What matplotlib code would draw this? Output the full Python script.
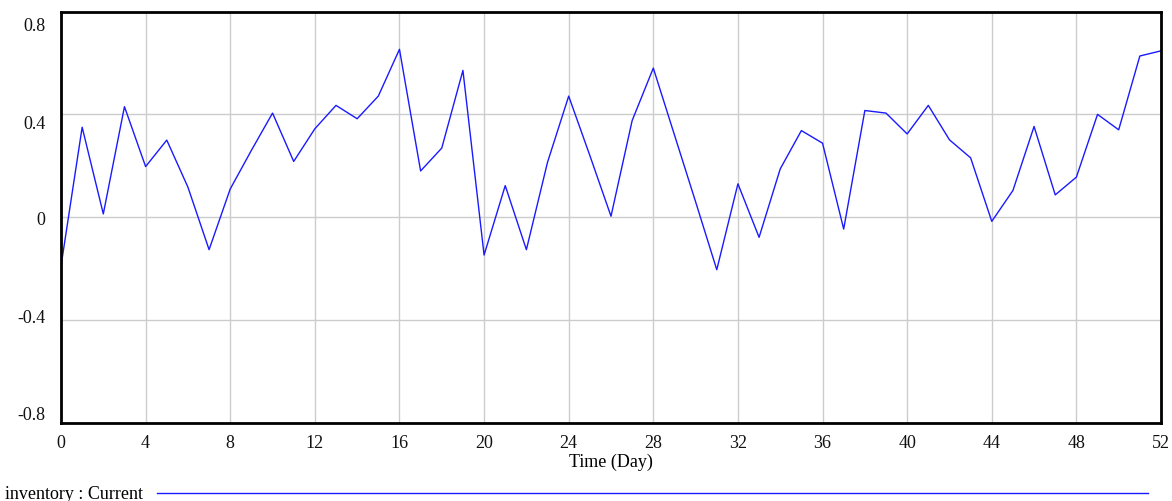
import matplotlib
matplotlib.use("Agg")
import matplotlib.pyplot as plt
from matplotlib.lines import Line2D
from matplotlib.transforms import ScaledTranslation

days = list(range(53))
inventory = [-0.19, 0.35, 0.013, 0.43, 0.197, 0.30, 0.117, -0.126, 0.11, 0.26,
             0.405, 0.217, 0.344, 0.435, 0.383, 0.471, 0.653, 0.18, 0.269, 0.571,
             -0.147, 0.123, -0.126, 0.214, 0.471, 0.24, 0.004, 0.376, 0.58, 0.32,
             0.06, -0.204, 0.13, -0.078, 0.188, 0.337, 0.288, -0.046, 0.415, 0.405,
             0.324, 0.435, 0.301, 0.231, -0.016, 0.104, 0.353, 0.087, 0.156, 0.40,
             0.34, 0.627, 0.647]
x_ticks = list(range(0, 53, 4))
y_ticks = [-0.8, -0.4, 0, 0.4, 0.8]
y_tick_labels = ["-0.8", "-0.4", "0", "0.4", "0.8"]
legend_label = "inventory : Current"
x_label = "Time (Day)"

plt.rcParams['font.family'] = ['Liberation Serif', 'DejaVu Serif']
W, H = 1172, 502
fig = plt.figure(figsize=(W / 100, H / 100), dpi=100)
ax = fig.add_axes([61 / W, 1 - 424 / H, 1100 / W, (424 - 12.5) / H])

ax.plot(days, inventory, color='#1a1aff', lw=1.0)
ax.set_xlim(0, 52)
ax.set_ylim(-0.8, 0.8)
ax.set_xticks(x_ticks)
ax.set_yticks(y_ticks)
ax.set_yticklabels(y_tick_labels)
ax.grid(True, color='#cccccc', lw=1.0)
ax.set_axisbelow(True)
ax.tick_params(length=0, labelsize=13, colors='#111111')
ax.tick_params(axis='y', pad=11)
ax.tick_params(axis='x', pad=8)
for s in ax.spines.values():
    s.set_color('black')
    s.set_linewidth(2.0)
ax.set_xlabel(x_label, fontsize=13, labelpad=1)

# y tick labels are nudged toward the plot centre (px, positive = downward)
y_label_shift = [-10, -5, 0, 7, 12]
for lab, dy in zip(ax.get_yticklabels(), y_label_shift):
    lab.set_transform(lab.get_transform() +
                      ScaledTranslation(0, -dy / 100, fig.dpi_scale_trans))

fig.text(5 / W, 1 - 495 / H, legend_label, fontsize=13, va='center', ha='left')
fig.add_artist(Line2D([157 / W, 1148 / W], [1 - 493.5 / H, 1 - 493.5 / H],
                      transform=fig.transFigure, color='#1a1aff', lw=1.0))

fig.savefig("out.png", dpi=100)
